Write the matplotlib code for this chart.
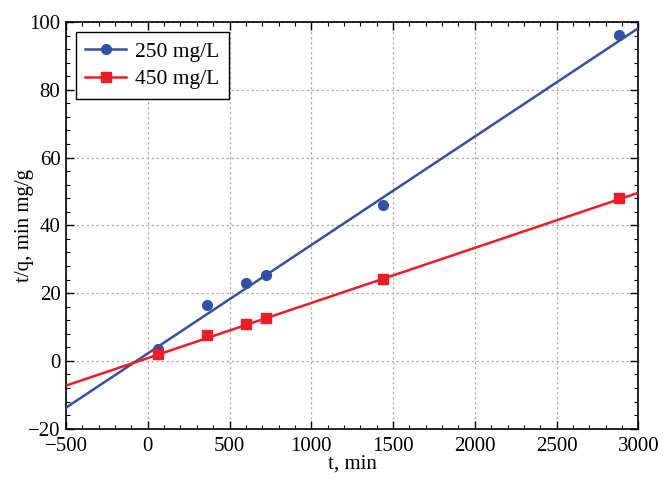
import matplotlib
matplotlib.use("Agg")
import matplotlib.pyplot as plt
import numpy as np
from matplotlib.ticker import MultipleLocator

plt.rcParams['font.family'] = ['Liberation Serif', 'DejaVu Serif']
plt.rcParams['mathtext.fontset'] = 'stix'

# pseudo-second-order data: t and t/q for two initial concentrations
t = [60, 360, 600, 720, 1440, 2880]
tq_250 = [3.5, 16.5, 23.0, 25.4, 46.0, 96.3]
tq_450 = [2.0, 7.6, 10.8, 12.6, 24.1, 48.0]

# linear fits (slope, intercept)
fit_250 = (0.0320, 2.2)
fit_450 = (0.01626, 0.83)

labels = ['250 mg/L', '450 mg/L']
colors = ['#3450a4', '#ee1c25']
markers = ['o', 's']

fig, ax = plt.subplots(figsize=(6.67, 4.8), dpi=100)
fig.subplots_adjust(left=0.099, right=0.957, top=0.954, bottom=0.107)

xs = np.array([-500, 3000])
for y, fit, lab, c, m in zip([tq_250, tq_450], [fit_250, fit_450], labels, colors, markers):
    ax.plot(xs, fit[0] * xs + fit[1], color=c, lw=1.8, zorder=3)
    ax.plot(t, y, linestyle='none', marker=m, color=c, markersize=7, zorder=4)

# legend entries show line with marker
handles = [plt.Line2D([], [], color=c, marker=m, lw=1.8, markersize=7)
           for c, m in zip(colors, markers)]
leg = ax.legend(handles, labels, loc='upper left', fontsize=15.5, fancybox=False,
                framealpha=1, edgecolor='black', handlelength=1.9,
                handletextpad=0.4, labelspacing=0.35, borderpad=0.45,
                borderaxespad=0.45)
leg.get_frame().set_linewidth(1.0)

ax.set_xlim(-500, 3000)
ax.set_ylim(-20, 100)
ax.xaxis.set_major_locator(MultipleLocator(500))
ax.xaxis.set_minor_locator(MultipleLocator(100))
ax.yaxis.set_major_locator(MultipleLocator(20))
ax.yaxis.set_minor_locator(MultipleLocator(4))
ax.tick_params(which='both', direction='in', top=True, right=True, labelsize=15)
ax.tick_params(axis='x', which='major', pad=6)
ax.tick_params(axis='y', which='major', pad=4)
ax.tick_params(which='major', length=6, width=1)
ax.tick_params(which='minor', length=3, width=0.8)
for s in ax.spines.values():
    s.set_linewidth(1.2)
ax.grid(True, which='major', color='#b0b0b0', linestyle=(0, (2, 2)), lw=0.9)
ax.set_axisbelow(True)

ax.set_xlabel('t, min', fontsize=15, labelpad=-1)
ax.set_ylabel('t/q, min mg/g', fontsize=15, labelpad=-4)

fig.savefig('out.png', dpi=100)
